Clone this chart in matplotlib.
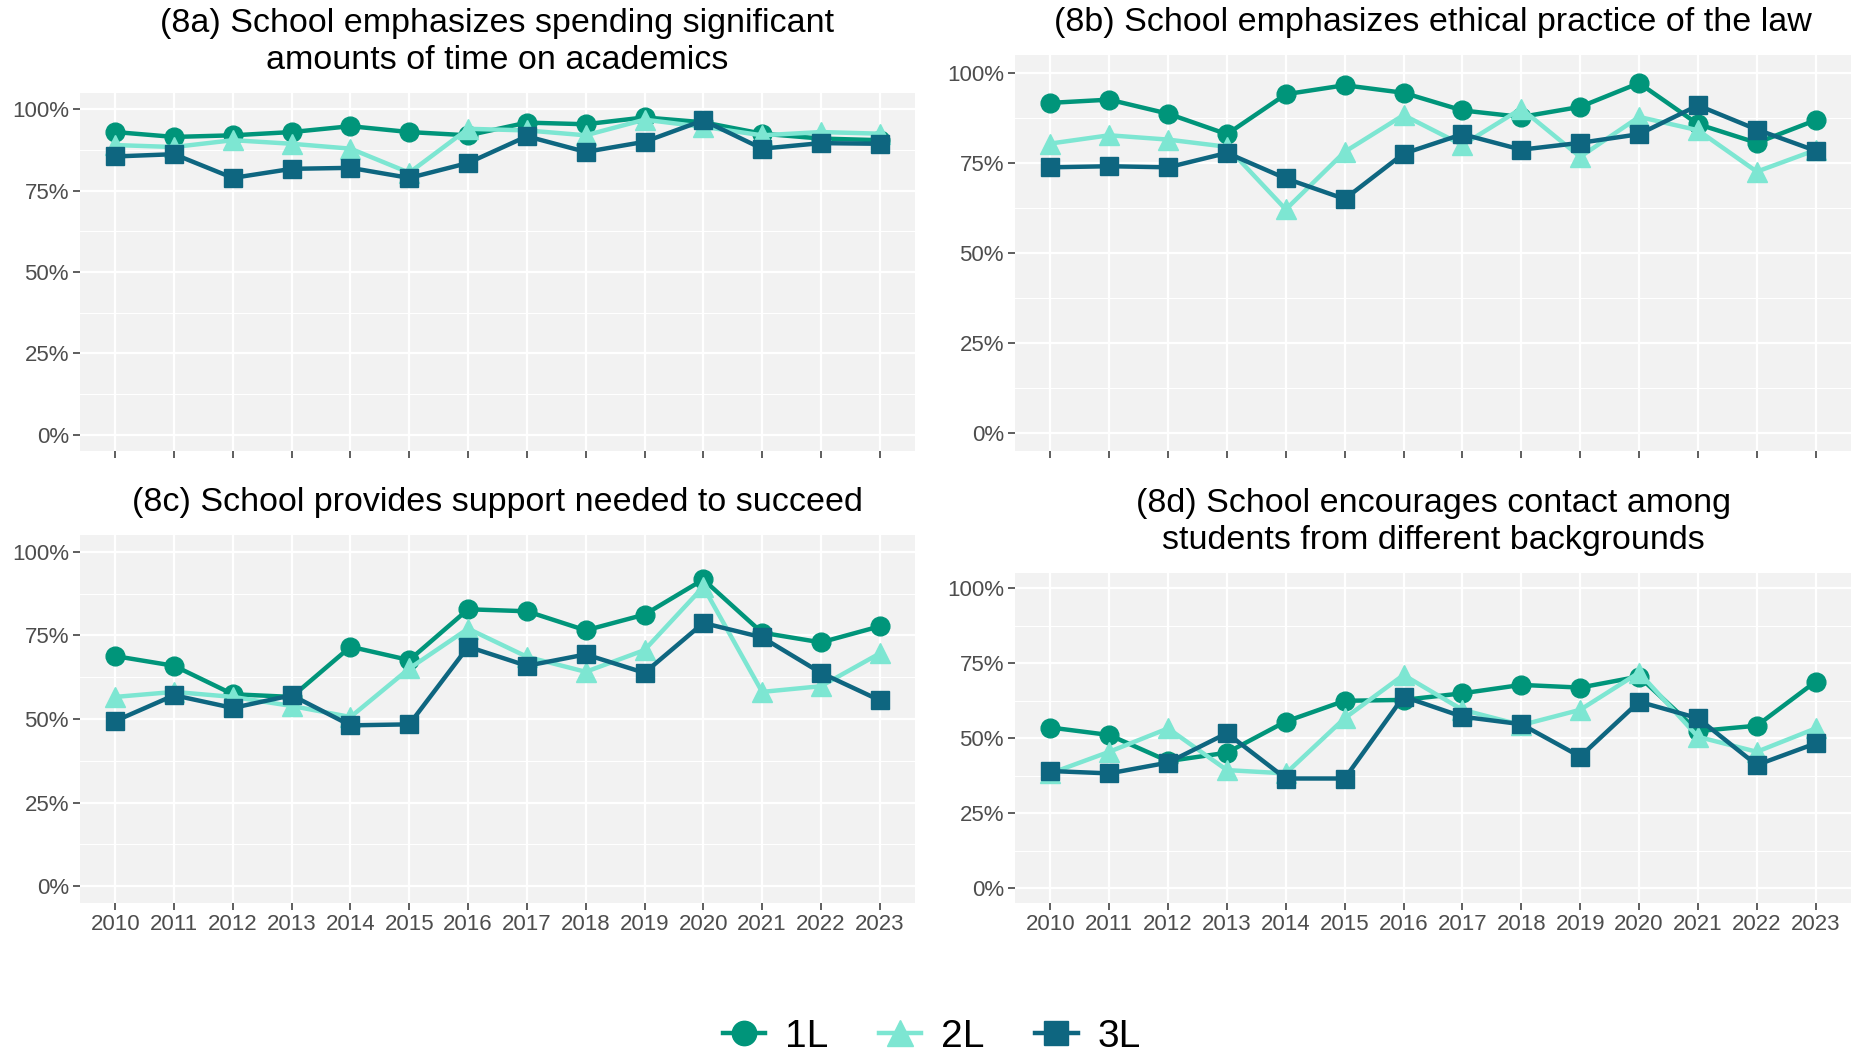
import numpy as np
import matplotlib
matplotlib.use("Agg")
import matplotlib.pyplot as plt
from matplotlib.ticker import FuncFormatter, MultipleLocator

plt.rcParams['font.family'] = ['Liberation Sans', 'DejaVu Sans']

years = list(range(2010, 2024))
groups = ['1L', '2L', '3L']

# (8a) time on academics
a_1L = [93.0, 91.5, 92.0, 93.0, 94.8, 93.0, 92.0, 95.9, 95.4, 97.5, 96.0, 92.5, 91.0, 90.5]
a_2L = [89.0, 88.4, 90.5, 89.4, 87.9, 80.5, 94.0, 93.5, 92.0, 96.8, 94.6, 92.0, 93.0, 92.5]
a_3L = [85.5, 86.2, 78.9, 81.7, 82.0, 78.9, 83.5, 91.7, 86.9, 90.0, 96.6, 87.9, 89.6, 89.4]

# (8b) ethical practice
b_1L = [91.7, 92.6, 88.7, 83.0, 94.1, 96.6, 94.5, 89.6, 87.8, 90.6, 97.2, 85.8, 80.6, 86.9]
b_2L = [80.4, 82.7, 81.5, 79.5, 62.1, 78.1, 88.3, 80.0, 90.1, 76.7, 87.8, 84.1, 72.6, 78.6]
b_3L = [73.8, 74.1, 73.8, 77.8, 70.7, 65.0, 77.6, 83.0, 78.7, 80.6, 83.0, 91.0, 84.3, 78.4]

# (8c) support needed to succeed
c_1L = [68.8, 65.9, 57.4, 56.6, 71.6, 67.6, 82.8, 82.2, 76.5, 81.2, 91.7, 75.8, 72.9, 77.7]
c_2L = [56.6, 58.1, 56.6, 53.9, 50.6, 65.1, 77.0, 68.6, 64.1, 70.6, 89.5, 58.1, 59.8, 69.6]
c_3L = [49.4, 57.1, 53.3, 57.1, 48.1, 48.4, 71.6, 65.9, 69.3, 63.8, 78.7, 74.4, 63.8, 55.6]

# (8d) contact among different backgrounds
d_1L = [53.5, 51.0, 42.3, 45.1, 55.5, 62.4, 62.7, 64.9, 67.7, 66.8, 70.5, 52.3, 54.1, 68.8]
d_2L = [38.2, 45.4, 53.2, 39.3, 38.2, 56.6, 71.0, 59.4, 54.3, 59.4, 71.8, 50.4, 45.4, 53.2]
d_3L = [39.0, 38.2, 41.8, 51.6, 36.5, 36.5, 63.8, 57.1, 54.6, 43.8, 62.1, 56.6, 41.0, 48.2]

titles = [
    "(8a) School emphasizes spending significant\namounts of time on academics",
    "(8b) School emphasizes ethical practice of the law",
    "(8c) School provides support needed to succeed",
    "(8d) School encourages contact among\nstudents from different backgrounds",
]
panels = [(a_1L, a_2L, a_3L), (b_1L, b_2L, b_3L), (c_1L, c_2L, c_3L), (d_1L, d_2L, d_3L)]

colors = {'1L': '#00957A', '2L': '#7DE6D2', '3L': '#0E6680'}
markers = {'1L': 'o', '2L': '^', '3L': 's'}
msizes = {'1L': 13.5, '2L': 14.5, '3L': 13}

W, H = 1863, 1059
fig = plt.figure(figsize=(W / 100, H / 100), dpi=100)

# panel boxes in pixels: left, right, top, bottom
boxes = [(80, 915, 93, 451), (1015, 1851, 55, 451),
         (80, 915, 535, 903), (1015, 1851, 573, 903)]

handles = []
for i, (box, title, series) in enumerate(zip(boxes, titles, panels)):
    l, r, t, b = box
    ax = fig.add_axes([l / W, 1 - b / H, (r - l) / W, (b - t) / H])
    ax.set_facecolor('#F2F2F2')
    for sp in ax.spines.values():
        sp.set_visible(False)
    ax.set_xlim(2009.4, 2023.6)
    ax.set_ylim(-5, 105)
    ax.yaxis.set_major_locator(MultipleLocator(25))
    ax.yaxis.set_minor_locator(MultipleLocator(12.5))
    ax.set_xticks(years)
    ax.yaxis.set_major_formatter(FuncFormatter(lambda v, p: f"{v:.0f}%"))
    ax.grid(which='major', color='white', linewidth=1.6)
    ax.grid(which='minor', axis='y', color='white', linewidth=0.8)
    ax.set_axisbelow(True)
    ax.tick_params(axis='both', which='major', length=5, width=1.1, color='#333333',
                   labelsize=16, labelcolor='#4D4D4D', pad=3)
    ax.tick_params(axis='y', which='minor', length=0)
    if i < 2:
        ax.tick_params(axis='x', labelbottom=False)
    for g, vals in zip(groups, series):
        h, = ax.plot(years, vals, color=colors[g], linewidth=3.2, marker=markers[g],
                     markersize=msizes[g], label=g)
        if i == 0:
            handles.append(h)
    ax.set_title(title, fontsize=24.5, color='black', pad=17, linespacing=1.25)

fig.legend(handles=handles, labels=groups, loc='center', bbox_to_anchor=(0.5, 1 - 1037 / H),
           ncol=3, frameon=False, fontsize=28, handlelength=1.1, columnspacing=1.3,
           handletextpad=0.5, markerscale=1.3)

fig.savefig('out.png', dpi=100)
